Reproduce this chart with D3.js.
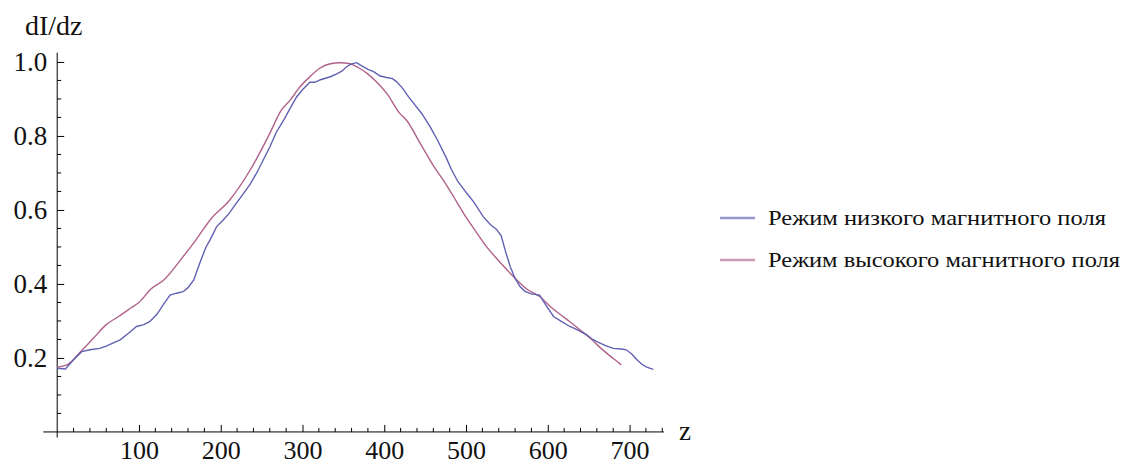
<!DOCTYPE html>
<meta charset="utf-8">
<style>
  body { margin: 0; background: #fff; }
  svg text { font-family: "Liberation Serif", "DejaVu Serif", "Times New Roman", serif; fill: #111; }
  .axis path, .axis line { stroke: #000; stroke-width: 1; }
</style>
<div id="chart"></div>
<script src="https://cdn.jsdelivr.net/npm/d3@7"></script>
<script>
// режим низкого магнитного поля (z, dI/dz)
var lowZ = [0, 10, 20, 30, 40, 52, 60, 70, 77, 88, 97, 106, 113, 122, 130, 138, 146, 154, 160, 167,
  175, 182, 187, 195, 203, 210, 218, 228, 236, 244, 252, 260, 268, 277, 285, 293, 300, 309, 315, 322,
  334, 342, 348, 354, 360, 366, 372, 380, 387, 395, 403, 410, 415, 422, 430, 436, 446, 456, 466, 476,
  482, 490, 501, 510, 521, 530, 537, 543, 548, 554, 560, 566, 572, 580, 590, 597, 607, 617, 627, 637,
  648, 655, 660, 670, 680, 690, 696, 703, 709, 715, 721, 729];
var lowV = [0.172, 0.17, 0.195, 0.217, 0.222, 0.226, 0.232, 0.242, 0.249, 0.268, 0.285, 0.29, 0.298, 0.318, 0.345, 0.37, 0.375, 0.379, 0.39, 0.411,
  0.46, 0.5, 0.519, 0.555, 0.573, 0.59, 0.615, 0.645, 0.67, 0.7, 0.735, 0.77, 0.81, 0.843, 0.875, 0.906, 0.925, 0.945, 0.945, 0.952,
  0.96, 0.968, 0.975, 0.987, 0.995, 0.998, 0.99, 0.98, 0.974, 0.962, 0.958, 0.955, 0.947, 0.93, 0.905, 0.888, 0.86, 0.825, 0.785, 0.74,
  0.71, 0.677, 0.645, 0.62, 0.582, 0.56, 0.548, 0.53, 0.49, 0.447, 0.415, 0.393, 0.38, 0.373, 0.37, 0.345, 0.312, 0.298, 0.285, 0.275,
  0.262, 0.25, 0.244, 0.234, 0.226, 0.224, 0.222, 0.21, 0.195, 0.183, 0.175, 0.169];

// режим высокого магнитного поля
var highZ = [0, 12, 30, 45, 60, 75, 90, 101, 114, 130, 154, 170, 187, 211, 236, 260, 273, 285, 297, 309,
  321, 334, 346, 358, 368, 379, 391, 403, 419, 427, 444, 460, 472, 485, 497, 511, 525, 541, 558, 575,
  590, 603, 615, 627, 640, 652, 662, 672, 681, 690];
var highV = [0.175, 0.181, 0.22, 0.255, 0.29, 0.312, 0.335, 0.352, 0.385, 0.41, 0.474, 0.52, 0.573, 0.627, 0.708, 0.807, 0.866, 0.897, 0.933, 0.96,
  0.983, 0.995, 0.998, 0.995, 0.985, 0.969, 0.945, 0.915, 0.861, 0.843, 0.78, 0.72, 0.681, 0.635, 0.591, 0.545, 0.501, 0.46, 0.42, 0.385,
  0.366, 0.339, 0.318, 0.298, 0.275, 0.253, 0.232, 0.213, 0.197, 0.181];

var seriesNames = ["Режим низкого магнитного поля", "Режим высокого магнитного поля"];
var seriesColors = ["#6161b2", "#b0628a"];

var xMajor = [100, 200, 300, 400, 500, 600, 700];
var yMajor = [0.2, 0.4, 0.6, 0.8, 1.0];

var W = 1133, H = 465;
var svg = d3.select("#chart").append("svg").attr("width", W).attr("height", H);

// шкалы (расширенный домен, чтобы ось выходила за пределы данных)
var x = d3.scaleLinear().domain([-17, 742]).range([43.3, 663.9]);
var y = d3.scaleLinear().domain([-0.015, 1.025]).range([437.5, 52.7]);

var xMinor = d3.range(0, 741, 20).filter(function(d) { return d % 100 !== 0; });
var yMinor = d3.range(0.05, 1.001, 0.05).filter(function(d) { return Math.abs(d * 5 - Math.round(d * 5)) > 1e-6; });

// ось X
var gx = svg.append("g").attr("class", "axis").attr("transform", "translate(0," + y(0) + ")");
gx.call(d3.axisBottom(x).tickValues(xMajor).tickSizeInner(-7).tickSizeOuter(0).tickPadding(0).tickFormat(d3.format("d")));
gx.selectAll(".tick text").attr("font-size", 26).attr("dy", 0).attr("y", 27).attr("font-family", null);
gx.append("g").selectAll("line").data(xMinor).enter().append("line")
  .attr("x1", function(d) { return x(d); }).attr("x2", function(d) { return x(d); })
  .attr("y1", 0).attr("y2", -4);
gx.select(".domain").attr("d", "M" + x.range()[0] + ",0H" + x.range()[1]);
gx.attr("font-family", null);

// ось Y
var gy = svg.append("g").attr("class", "axis").attr("transform", "translate(" + x(0) + ",0)");
gy.call(d3.axisLeft(y).tickValues(yMajor).tickSizeInner(-7).tickSizeOuter(0).tickPadding(0).tickFormat(d3.format(".1f")));
gy.selectAll(".tick text").attr("font-size", 27).attr("x", -10).attr("dy", "0.33em");
gy.append("g").selectAll("line").data(yMinor).enter().append("line")
  .attr("y1", function(d) { return y(d); }).attr("y2", function(d) { return y(d); })
  .attr("x1", 0).attr("x2", 4);
gy.select(".domain").attr("d", "M0," + y.range()[0] + "V" + y.range()[1]);
gy.attr("font-family", null);

// подписи осей
svg.append("text").attr("x", 25).attr("y", 35).attr("font-size", 28).text("dI/dz");
svg.append("text").attr("x", 679).attr("y", 440).attr("font-size", 27).text("z");

// кривые
var line = d3.line().x(function(d) { return x(d[0]); }).y(function(d) { return y(d[1]); });
var lowData = d3.zip(lowZ, lowV);
var highData = d3.zip(highZ, highV);

svg.append("path").datum(highData)
  .attr("fill", "none").attr("stroke", seriesColors[1]).attr("stroke-width", 1.4)
  .attr("d", line.curve(d3.curveMonotoneX));
svg.append("path").datum(lowData)
  .attr("fill", "none").attr("stroke", seriesColors[0]).attr("stroke-width", 1.4)
  .attr("d", line.curve(d3.curveLinear));

// легенда
var legend = svg.append("g").attr("transform", "translate(720,218)");
var legendWidths = [338, 352];
seriesNames.forEach(function(name, i) {
  legend.append("line").attr("x1", 0).attr("x2", 35).attr("y1", i * 42).attr("y2", i * 42)
    .attr("stroke", seriesColors[i]).attr("stroke-width", 2.5).attr("stroke-opacity", 0.65);
  legend.append("text").attr("x", 48).attr("y", i * 42 + 7).attr("font-size", 22)
    .attr("textLength", legendWidths[i]).attr("lengthAdjust", "spacingAndGlyphs").text(name);
});
</script>
